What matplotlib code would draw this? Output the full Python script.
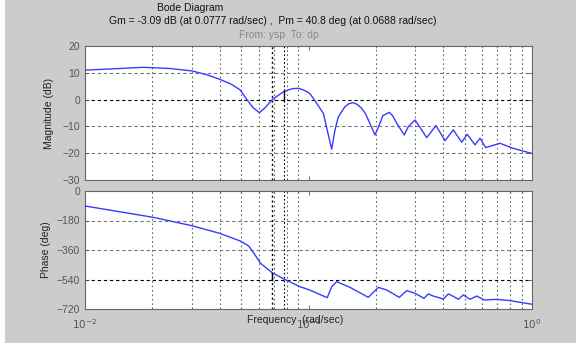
import matplotlib
matplotlib.use("Agg")
import matplotlib.pyplot as plt
from matplotlib.ticker import FixedLocator, NullFormatter

plt.rcParams['font.family'] = ['Liberation Sans', 'DejaVu Sans']

mag_freq = [0.01, 0.0135, 0.0182, 0.024, 0.0301, 0.035, 0.04, 0.045, 0.0495, 0.0529,
            0.0565, 0.0603, 0.064, 0.0688, 0.0777, 0.085, 0.0899, 0.095, 0.1012, 0.1051,
            0.1165, 0.1227, 0.127, 0.1314, 0.136, 0.1457, 0.152, 0.1586, 0.165, 0.173,
            0.18, 0.1852, 0.1984, 0.2089, 0.215, 0.2299, 0.238, 0.2481, 0.2683, 0.2796,
            0.2996, 0.3209, 0.338, 0.3718, 0.4081, 0.4446, 0.4847, 0.5133, 0.5557, 0.5853,
            0.6207, 0.7192, 0.8249, 0.9897, 1.0]
mag_db = [11.0, 11.5, 12.05, 11.6, 10.7, 9.3, 7.6, 5.8, 3.6, 0.1,
          -3.0, -4.9, -3.0, 0.0, 3.09, 4.1, 4.2, 3.6, 2.35, 0.48,
          -5.1, -13.2, -18.5, -11.3, -6.4, -2.6, -1.5, -1.15, -1.8, -3.25,
          -5.3, -7.6, -13.2, -8.8, -6.0, -4.75, -6.0, -8.85, -13.2, -10.1,
          -7.6, -11.3, -14.2, -9.7, -15.3, -11.3, -15.9, -12.95, -16.9, -14.4,
          -17.9, -16.3, -18.2, -20.0, -20.1]

ph_freq = [0.01, 0.0202, 0.03, 0.04, 0.0495, 0.054, 0.057, 0.061, 0.0688, 0.0777,
           0.0916, 0.1012, 0.1213, 0.127, 0.1337, 0.1533, 0.1852, 0.2053, 0.2238, 0.2548,
           0.275, 0.2996, 0.3286, 0.3435, 0.3615, 0.401, 0.4222, 0.4477, 0.4679, 0.4926,
           0.5278, 0.5655, 0.6115, 0.695, 0.797, 1.0]
ph_deg = [-91.5, -160.7, -211.5, -258, -305, -335.6, -380, -441, -499, -537,
          -584, -604, -651, -584, -553, -588, -648.8, -588, -604, -649,
          -608, -624, -655, -628, -641, -659, -628, -645, -661, -634.6,
          -661, -641, -665, -661, -669, -691]

gm_db = -3.09
gm_freq = 0.0777
pm_deg = 40.8
pm_freq = 0.0688

mag_ticks = [-30, -20, -10, 0, 10, 20]
ph_ticks = [-720, -540, -360, -180, 0]

W, H = 576, 343
fig = plt.figure(figsize=(W / 100, H / 100), dpi=100, facecolor='#cccccc')
fig.patches.append(plt.Rectangle((0, 0), 5 / W, 1, transform=fig.transFigure,
                                 facecolor='white', edgecolor='none'))

def rect(l, t, r, b):
    return [l / W, 1 - b / H, (r - l) / W, (b - t) / H]

ax1 = fig.add_axes(rect(85, 46, 532, 180))
ax2 = fig.add_axes(rect(85, 191, 532, 309))

blue = '#3a3aff'
tc = '#555555'
vgrid = [k * 10 ** e for e in (-2, -1) for k in range(2, 10)]

for ax, ylim, yt, ref in ((ax1, (-30, 20), mag_ticks, 0), (ax2, (-720, 0), ph_ticks, -540)):
    ax.set_xscale('log')
    ax.set_xlim(0.01, 1)
    ax.set_ylim(*ylim)
    ax.set_yticks(yt)
    for v in vgrid:
        ax.axvline(v, color='#666666', lw=0.8, ls=(0, (1.5, 2.5)), zorder=1)
    for y in yt[1:-1]:
        ax.axhline(y, color='black' if y == ref else '#777777', lw=0.8,
                   ls=(0, (3, 2.5)), zorder=1)
    for f in (pm_freq, gm_freq):
        ax.axvline(f, color='black', lw=1.0 if f == pm_freq else 0.8,
                   ls=(0, (1.5, 2)), zorder=2)
    ax.tick_params(direction='in', colors=tc, labelsize=7.5, length=3, width=0.6,
                   which='both', top=True, right=True)
    ax.tick_params(which='minor', length=1.5)
    ax.xaxis.set_major_locator(FixedLocator([0.01, 0.1, 1]))
    ax.xaxis.set_minor_locator(FixedLocator(vgrid))
    ax.xaxis.set_minor_formatter(NullFormatter())
    for s in ax.spines.values():
        s.set_color('#666666')
        s.set_linewidth(0.8)
    ax.set_facecolor('white')

ax1.set_xticklabels([])
ax1.plot(mag_freq, mag_db, color=blue, lw=1.0, zorder=3)
ax1.plot([gm_freq, gm_freq], [0, -gm_db], color='black', lw=1.0, zorder=3)
ax2.plot(ph_freq, ph_deg, color=blue, lw=1.0, zorder=3)
ax2.plot([pm_freq, pm_freq], [-540, -540 + pm_deg], color='black', lw=1.0, zorder=3)
ax2.set_xticklabels(['$10^{-2}$', '$10^{-1}$', '$10^{0}$'])
ax2.tick_params(axis='x', pad=6)

ax1.set_ylabel('Magnitude (dB)', fontsize=7.5, color='#222222', labelpad=6)
ax2.set_ylabel('Phase (deg)', fontsize=7.5, color='#222222', labelpad=4)

fig.text(190 / W, 1 - 8 / H, 'Bode Diagram', ha='center', va='center',
         fontsize=7.5, color='#111111')
fig.text(273 / W, 1 - 21 / H,
         'Gm = -3.09 dB (at 0.0777 rad/sec) ,  Pm = 40.8 deg (at 0.0688 rad/sec)',
         ha='center', va='center', fontsize=7.5, color='#111111')
fig.text(279 / W, 1 - 35 / H, 'From: ysp  To: dp', ha='center', va='center',
         fontsize=7.5, color='#888888')
fig.text(247 / W, 1 - 320 / H, 'Frequency  (rad/sec)', ha='left', va='center',
         fontsize=7.5, color='#222222')

fig.savefig('out.png', dpi=100, facecolor=fig.get_facecolor())
